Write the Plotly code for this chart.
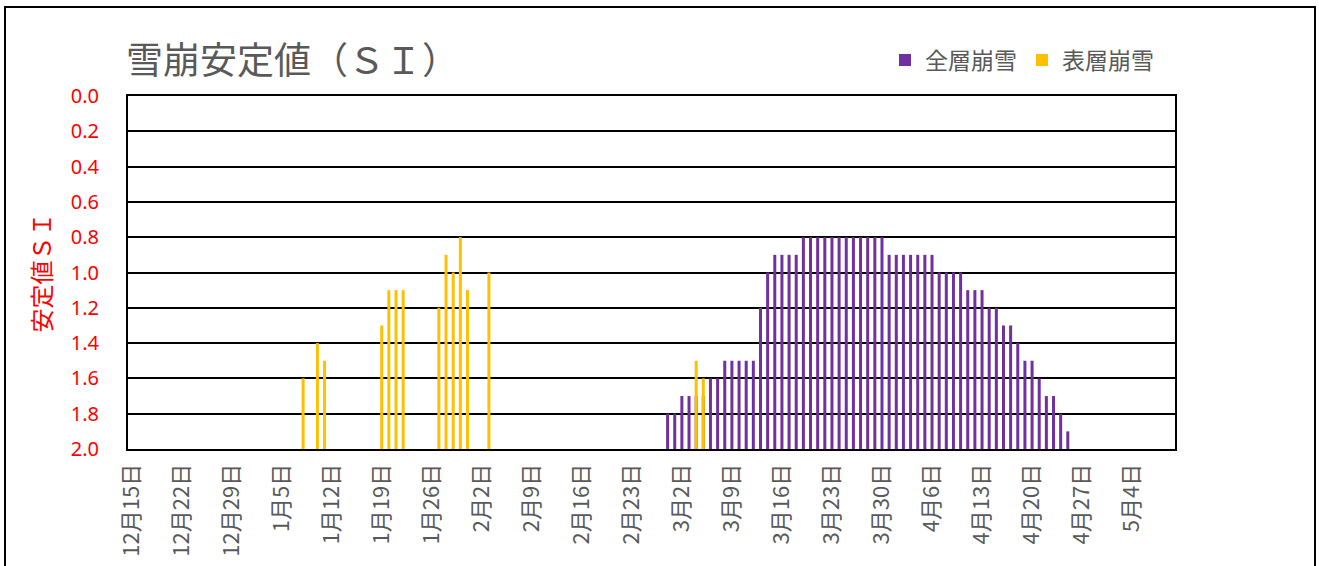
import plotly.graph_objects as go

# ---- data ----
full_dates = [
    "2023-02-28", "2023-03-01", "2023-03-02", "2023-03-03", "2023-03-04", "2023-03-05",
    "2023-03-06", "2023-03-07", "2023-03-08", "2023-03-09", "2023-03-10", "2023-03-11",
    "2023-03-12", "2023-03-13", "2023-03-14", "2023-03-15", "2023-03-16", "2023-03-17",
    "2023-03-18", "2023-03-19", "2023-03-20", "2023-03-21", "2023-03-22", "2023-03-23",
    "2023-03-24", "2023-03-25", "2023-03-26", "2023-03-27", "2023-03-28", "2023-03-29",
    "2023-03-30", "2023-03-31", "2023-04-01", "2023-04-02", "2023-04-03", "2023-04-04",
    "2023-04-05", "2023-04-06", "2023-04-07", "2023-04-08", "2023-04-09", "2023-04-10",
    "2023-04-11", "2023-04-12", "2023-04-13", "2023-04-14", "2023-04-15", "2023-04-16",
    "2023-04-17", "2023-04-18", "2023-04-19", "2023-04-20", "2023-04-21", "2023-04-22",
    "2023-04-23", "2023-04-24", "2023-04-25",
]
full_si = [
    1.8, 1.8, 1.7, 1.7, 1.7, 1.7,
    1.6, 1.6, 1.5, 1.5, 1.5, 1.5,
    1.5, 1.2, 1.0, 0.9, 0.9, 0.9,
    0.9, 0.8, 0.8, 0.8, 0.8, 0.8,
    0.8, 0.8, 0.8, 0.8, 0.8, 0.8,
    0.8, 0.9, 0.9, 0.9, 0.9, 0.9,
    0.9, 0.9, 1.0, 1.0, 1.0, 1.0,
    1.1, 1.1, 1.1, 1.2, 1.2, 1.3,
    1.3, 1.4, 1.5, 1.5, 1.6, 1.7,
    1.7, 1.8, 1.9,
]

surface_dates = [
    "2023-01-08", "2023-01-10", "2023-01-11", "2023-01-19", "2023-01-20", "2023-01-21",
    "2023-01-22", "2023-01-27", "2023-01-28", "2023-01-29", "2023-01-30", "2023-01-31",
    "2023-02-03", "2023-03-04", "2023-03-05",
]
surface_si = [
    1.6, 1.4, 1.5, 1.3, 1.1, 1.1,
    1.1, 1.2, 0.9, 1.0, 0.8, 1.1,
    1.0, 1.5, 1.6,
]

series_names = ["全層崩雪", "表層崩雪"]
y_ticks = [0.0, 0.2, 0.4, 0.6, 0.8, 1.0, 1.2, 1.4, 1.6, 1.8, 2.0]
SI_BASE = 2.0

# ---- layout constants ----
W, H = 1319, 566
L, R, T, B = 128, 144, 96, 117
PW, PH = W - L - R, H - T - B
DAY_MS = 86400000
BAR_W = 0.42 * DAY_MS

PURPLE = "#7030A0"
YELLOW = "#FFC000"
GRAY = "#595959"
FONT = "Noto Sans CJK JP"

fig = go.Figure()
fig.add_trace(go.Bar(
    x=full_dates, y=[v - SI_BASE for v in full_si], base=SI_BASE,
    width=BAR_W, marker=dict(color=PURPLE, line=dict(width=0)),
    name=series_names[0],
))
fig.add_trace(go.Bar(
    x=surface_dates, y=[v - SI_BASE for v in surface_si], base=SI_BASE,
    width=BAR_W, marker=dict(color=YELLOW, line=dict(width=0)),
    name=series_names[1],
))

def px_x(p):
    return (p - L) / PW

def px_y(p):
    return (H - B - p) / PH

fig.update_layout(
    width=W, height=H,
    margin=dict(l=L, r=R, t=T, b=B),
    paper_bgcolor="white", plot_bgcolor="white",
    barmode="overlay",
    font=dict(family=FONT, color=GRAY),
    title=dict(
        text="雪崩安定値（ＳＩ）", x=126 / W, xanchor="left",
        y=1 - 61 / H, yanchor="middle",
        font=dict(size=37, color=GRAY, family=FONT),
    ),
    legend=dict(
        orientation="h", x=px_x(885), xanchor="left", y=px_y(60), yanchor="middle",
        font=dict(size=23, color=GRAY, family=FONT),
        itemwidth=30, bgcolor="rgba(0,0,0,0)",
    ),
    showlegend=True,
    xaxis=dict(
        type="date",
        range=["2022-12-14 12:00", "2023-05-10 00:00"],
        tick0="2022-12-15", dtick=7 * DAY_MS,
        tickformat="%-m月%-d日", tickangle=-90,
        tickfont=dict(size=22, color=GRAY, family=FONT),
        showgrid=False, zeroline=False,
        showline=True, linecolor="black", linewidth=2, mirror=True,
        ticks="", ticklabelstandoff=4, automargin=False,
    ),
    yaxis=dict(
        range=[2.0, 0.0], tickvals=y_ticks, tickformat=".1f",
        tickfont=dict(size=20, color="red", family="Noto Sans"),
        showgrid=True, gridcolor="black", gridwidth=2,
        zeroline=False,
        showline=True, linecolor="black", linewidth=2, mirror=True,
        ticks="", ticklabelstandoff=23, automargin=False,
        title=dict(text="安定値ＳＩ", font=dict(size=24, color="red", family=FONT), standoff=12),
    ),
    shapes=[dict(
        type="rect", xref="paper", yref="paper",
        x0=px_x(5), x1=px_x(1315), y0=px_y(600), y1=px_y(7),
        line=dict(color="black", width=2), fillcolor="rgba(0,0,0,0)", layer="below",
    )],
)

fig.write_html(
    "out.html",
    config={"displayModeBar": False},
    post_script="document.body.style.margin='0';",
)
